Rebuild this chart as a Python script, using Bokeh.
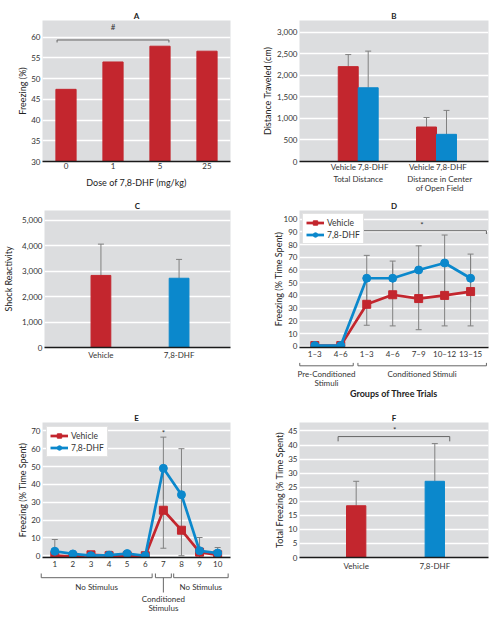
import numpy as np
from bokeh.plotting import figure
from bokeh.models import (FixedTicker, NumeralTickFormatter, Whisker, TeeHead,
                          ColumnDataSource, CustomJSTickFormatter, Legend, Range1d)
from bokeh.layouts import column, row
from bokeh.embed import file_html
from bokeh.resources import INLINE
from bokeh.core.properties import value

FONT = "Lato"
RED = "#C3262E"
BLUE = "#0B88CC"
BG = "#DCDDDF"
ERR = "#808080"
AXIS = "#1a1a1a"
TXT = "#333333"
BRK = "#666666"

# ---------------- data ----------------
# Panel A
a_doses = ["0", "1", "5", "25"]
a_freezing = [47.4, 54.0, 57.8, 56.6]
a_yticks = [30, 35, 40, 45, 50, 55, 60]

# Panel B
b_groups = ["Total Distance", "Distance in Center", "of Open Field"]
b_series = ["Vehicle", "7,8-DHF"]
b_vehicle = [2200, 800]
b_vehicle_upper = [2480, 1020]
b_dhf = [1710, 630]
b_dhf_upper = [2560, 1185]
b_yticks = [0, 500, 1000, 1500, 2000, 2500, 3000]

# Panel C
c_groups = ["Vehicle", "7,8-DHF"]
c_values = [2830, 2720]
c_upper = [4060, 3460]
c_yticks = [0, 1000, 2000, 3000, 4000, 5000]

# Panel D
d_ticks = ["1–3", "4–6", "1–3", "4–6", "7–9", "10–12", "13–15"]
d_phase_labels = ["Pre-Conditioned", "Stimuli", "Conditioned Stimuli"]
d_vehicle = [0.5, 0.5, 33, 40.5, 37.5, 40, 43]
d_vehicle_err = [0, 0, 16.5, 24.5, 24.5, 24, 27]
d_dhf = [0.5, 0.5, 53.5, 53.5, 60, 65.5, 53.5]
d_dhf_err = [0, 0, 18, 13.5, 19, 22, 19]
d_yticks = [0, 10, 20, 30, 40, 50, 60, 70, 80, 90, 100]

# Panel E
e_trials = [1, 2, 3, 4, 5, 6, 7, 8, 9, 10]
e_phase_labels = ["No Stimulus", "Conditioned", "Stimulus", "No Stimulus"]
e_vehicle = [0, -0.5, 0.5, 0, 0, 0, 25.5, 14.3, 2, 0.5]
e_vehicle_err = [0, 0, 0, 0, 0, 0, 21.3, 14.3, 0, 0]
e_dhf = [2.5, 1, 0, 0.3, 1.2, 0, 49, 34.2, 2.8, 1.5]
e_dhf_err = [6.6, 0, 0, 2.2, 0, 0, 17.5, 25.8, 7.4, 3.1]
e_yticks = [0, 10, 20, 30, 40, 50, 60, 70]

# Panel F
f_groups = ["Vehicle", "7,8-DHF"]
f_values = [18.4, 27.1]
f_upper = [27.1, 40.5]
f_yticks = [0, 5, 10, 15, 20, 25, 30, 35, 40, 45]

# ---------------- layout geometry (px) ----------------
W1, BL1, BR1 = 250, 42, 20      # left column
W2, BL2, BR2 = 240, 49, 2       # right column
R1 = dict(bt=20, fh=141, bb=13, sub=18)
R2 = dict(bt=18, fh=139, bb=13, sub=38)
R3 = dict(bt=22, fh=138, bb=13, sub=46)


# ---------------- helpers ----------------
def style_axis(ax):
    ax.major_tick_out = 0
    ax.major_tick_in = 0
    ax.minor_tick_out = 0
    ax.minor_tick_in = 0
    ax.major_tick_line_color = None
    ax.minor_tick_line_color = None
    ax.major_label_text_font = FONT
    ax.major_label_text_font_size = "8px"
    ax.major_label_text_color = TXT
    ax.major_label_standoff = 2
    ax.axis_label_text_font = FONT
    ax.axis_label_text_font_size = "9px"
    ax.axis_label_text_font_style = "normal"
    ax.axis_label_text_color = "#222222"


def main_fig(w, bl, br, r, xr, yr, ylabel, yticks, ystand, xstand, ttl):
    p = figure(width=w, height=r["bt"] + r["fh"] + r["bb"], x_range=xr, y_range=yr,
               output_backend="svg", toolbar_location=None, title=ttl,
               min_border_left=bl, min_border_right=br,
               min_border_top=r["bt"], min_border_bottom=r["bb"])
    p.title.align = "center"
    p.title.text_font = FONT
    p.title.text_font_size = "8px"
    p.title.text_font_style = "bold"
    p.title.text_color = "#222222"
    try:
        p.title.standoff = 0
    except Exception:
        pass
    p.background_fill_color = BG
    p.border_fill_color = "white"
    p.outline_line_color = None
    p.xgrid.visible = False
    p.ygrid.grid_line_color = "white"
    p.ygrid.grid_line_width = 1.3
    for ax in p.yaxis:
        style_axis(ax)
        ax.axis_line_color = None
        ax.axis_label = ylabel
        ax.axis_label_standoff = ystand
        ax.ticker = FixedTicker(ticks=yticks)
    for ax in p.xaxis:
        style_axis(ax)
        ax.axis_line_color = AXIS
        ax.axis_line_width = 1.6
        ax.major_label_standoff = xstand
    return p


def sub_fig(w, bl, br, h, xr):
    # full-width strip below a panel; its x range continues the panel's x scale
    ppu = (w - bl - br) / (xr.end - xr.start)
    sxr = Range1d(xr.start - bl / ppu, xr.end + br / ppu)
    p = figure(width=w, height=h, x_range=sxr, y_range=Range1d(h, 0),
               output_backend="svg", toolbar_location=None,
               x_axis_location=None, y_axis_location=None,
               min_border_left=0, min_border_right=0, min_border_top=0, min_border_bottom=0)
    p.background_fill_color = "white"
    p.border_fill_color = "white"
    p.outline_line_color = None
    p.grid.visible = False
    return p


def texts(p, xs, ys, labels, size="8px", style="normal", color=TXT):
    p.text(x=list(xs), y=list(ys), text=list(labels), text_font=value(FONT),
           text_font_size=size, text_font_style=style, text_color=color,
           text_align="center", text_baseline="middle")


def brackets(p, x0s, x1s, y, dy, color=BRK):
    n = len(x0s)
    p.segment(x0=list(x0s), y0=[y] * n, x1=list(x1s), y1=[y] * n, line_color=color, line_width=1)
    p.segment(x0=list(x0s) + list(x1s), y0=[y] * 2 * n, x1=list(x0s) + list(x1s),
              y1=[y + dy] * 2 * n, line_color=color, line_width=1)


def whisker(p, xs, lower, upper, up_head=True, low_head=False):
    src = ColumnDataSource(dict(x=list(xs), lower=list(lower), upper=list(upper)))
    p.add_layout(Whisker(source=src, base="x", lower="lower", upper="upper",
                         line_color=ERR, line_width=1,
                         upper_head=TeeHead(size=6, line_color=ERR, line_width=1) if up_head else None,
                         lower_head=TeeHead(size=6, line_color=ERR, line_width=1) if low_head else None))


def index_formatter(labels):
    return CustomJSTickFormatter(args=dict(labels=labels), code="return labels[index]")


def style_legend(lg, margin):
    lg.location = "top_left"
    lg.label_text_font = FONT
    lg.label_text_font_size = "8.5px"
    lg.label_text_color = TXT
    lg.background_fill_color = "white"
    lg.background_fill_alpha = 1
    lg.border_line_color = "#c8c8c8"
    lg.border_line_width = 1
    lg.padding = 3
    lg.spacing = 1
    lg.margin = margin
    lg.glyph_width = 18
    lg.glyph_height = 11
    lg.label_height = 11
    lg.label_standoff = 3


LW = 2.7

# ---------------- Panel A ----------------
a_xr = Range1d(-0.5, 3.5)
pA = main_fig(W1, BL1, BR1, R1, a_xr, (30, 64), "Freezing (%)", a_yticks, 0, 1, "A")
a_x = np.arange(len(a_doses))
pA.vbar(x=a_x, top=a_freezing, width=0.43, color=RED)
pA.xaxis.ticker = FixedTicker(ticks=[float(v) for v in a_x])
pA.xaxis.formatter = index_formatter(a_doses)
brackets(pA, [a_x[0] - 0.19], [a_x[2] + 0.19], 59.3, -0.6)
texts(pA, [a_x[1]], [62.5], ["#"])
sA = sub_fig(W1, BL1, BR1, R1["sub"], a_xr)
texts(sA, [(a_xr.start + a_xr.end) / 2], [8], ["Dose of 7,8-DHF (mg/kg)"], size="9px",
      color="#222222")

# ---------------- Panel B ----------------
b_xr = Range1d(0.25, 2.664)
pB = main_fig(W2, BL2, BR2, R1, b_xr, (0, 3270), "Distance Traveled (cm)", b_yticks, 1, 0, "B")
b_x = np.arange(1, len(b_vehicle) + 1)
bw = 0.255
whisker(pB, b_x - bw / 2, b_vehicle, b_vehicle_upper)
whisker(pB, b_x + bw / 2, b_dhf, b_dhf_upper)
pB.vbar(x=b_x - bw / 2, top=b_vehicle, width=bw, color=RED)
pB.vbar(x=b_x + bw / 2, top=b_dhf, width=bw, color=BLUE)
pB.yaxis.formatter = NumeralTickFormatter(format="0,0")
b_tick_pos = sorted([float(g + d) for g in b_x for d in (-0.19, 0.19)])
pB.xaxis.ticker = FixedTicker(ticks=b_tick_pos)
pB.xaxis.formatter = index_formatter(b_series * len(b_x))
sB = sub_fig(W2, BL2, BR2, R1["sub"], b_xr)
texts(sB, [b_x[0], b_x[1] + 0.04, b_x[1] + 0.04], [4.3, 4.3, 13.3], b_groups)

# ---------------- Panel C ----------------
c_xr = Range1d(0.278, 2.658)
pC = main_fig(W1, BL1, BR1, R2, c_xr, (0, 5380), "Shock Reactivity", c_yticks, 5, 2, "C")
c_x = np.arange(1, len(c_groups) + 1)
whisker(pC, c_x, c_values, c_upper)
pC.vbar(x=c_x, top=c_values, width=0.253, color=[RED, BLUE])
pC.yaxis.formatter = NumeralTickFormatter(format="0,0")
pC.xaxis.ticker = FixedTicker(ticks=[float(v) for v in c_x])
pC.xaxis.formatter = index_formatter(c_groups)
sC = sub_fig(W1, BL1, BR1, R2["sub"], c_xr)

# ---------------- Panel D ----------------
d_xr = Range1d(-0.59, 6.69)
pD = main_fig(W2, BL2, BR2, R2, d_xr, (-1, 106.8), "Freezing (% Time Spent)", d_yticks, -3, 1, "D")
d_x = np.arange(len(d_ticks))
d_idx = [i for i, e in enumerate(d_dhf_err) if e > 0]
whisker(pD, d_x[d_idx], [d_dhf[i] - d_dhf_err[i] for i in d_idx],
        [d_dhf[i] + d_dhf_err[i] for i in d_idx], True, False)
v_idx = [i for i, e in enumerate(d_vehicle_err) if e > 0]
whisker(pD, d_x[v_idx], [d_vehicle[i] - d_vehicle_err[i] for i in v_idx],
        [d_vehicle[i] + d_vehicle_err[i] for i in v_idx], False, True)
r1 = pD.line(d_x, d_vehicle, color=RED, line_width=LW)
r2 = pD.scatter(d_x, d_vehicle, marker="square", size=8, color=RED)
r3 = pD.line(d_x, d_dhf, color=BLUE, line_width=LW)
r4 = pD.scatter(d_x, d_dhf, marker="circle", size=8, color=BLUE)
lgD = Legend(items=[("Vehicle", [r1, r2]), ("7,8-DHF", [r3, r4])])
style_legend(lgD, 3)
pD.add_layout(lgD)
pD.xaxis.ticker = FixedTicker(ticks=[float(v) for v in d_x])
pD.xaxis.formatter = index_formatter(d_ticks)
brackets(pD, [1.66], [6.61], 90.9, -2.6)
texts(pD, [4.13], [95.5], ["*"])
sD = sub_fig(W2, BL2, BR2, R2["sub"], d_xr)
brackets(sD, [-0.58, 1.66], [1.48, 6.61], 3.3, -3)
texts(sD, [0.45, 0.45, 4.13], [11.3, 20.7, 11.3], d_phase_labels)
texts(sD, [(d_xr.start + d_xr.end) / 2], [31.3], ["Groups of Three Trials"], size="9px",
      style="bold", color="#222222")

# ---------------- Panel E ----------------
e_xr = Range1d(0.32, 10.71)
pE = main_fig(W1, BL1, BR1, R3, e_xr, (-1, 74.7), "Freezing (% Time Spent)", e_yticks, 0, 3, "E")
e_x = np.array(e_trials)
d_i = [i for i, e in enumerate(e_dhf_err) if e > 0]
whisker(pE, e_x[d_i], [e_dhf[i] - e_dhf_err[i] for i in d_i],
        [e_dhf[i] + e_dhf_err[i] for i in d_i], True, False)
v_i = [i for i, e in enumerate(e_vehicle_err) if e > 0]
whisker(pE, e_x[v_i], [e_vehicle[i] - e_vehicle_err[i] for i in v_i],
        [e_vehicle[i] + e_vehicle_err[i] for i in v_i], False, True)
s1 = pE.line(e_x, e_vehicle, color=RED, line_width=LW)
s2 = pE.scatter(e_x, e_vehicle, marker="square", size=8, color=RED)
s3 = pE.line(e_x, e_dhf, color=BLUE, line_width=LW)
s4 = pE.scatter(e_x, e_dhf, marker="circle", size=8, color=BLUE)
lgE = Legend(items=[("Vehicle", [s1, s2]), ("7,8-DHF", [s3, s4])])
style_legend(lgE, 4)
pE.add_layout(lgE)
pE.xaxis.ticker = FixedTicker(ticks=[float(v) for v in e_x])
texts(pE, [7], [68.8], ["*"])
sE = sub_fig(W1, BL1, BR1, R3["sub"], e_xr)
brackets(sE, [0.25, 6.56, 7.57], [6.38, 7.44, 10.58], 4.2, -5)
sE.segment(x0=[7], y0=[4.2], x1=[7], y1=[19], line_color=BRK, line_width=1)
texts(sE, [3.31, 7, 7, 9.07], [13, 25.3, 34.7, 13], e_phase_labels)

# ---------------- Panel F ----------------
f_xr = Range1d(0.279, 2.683)
pF = main_fig(W2, BL2, BR2, R3, f_xr, (0, 48), "Total Freezing (% Time Spent)", f_yticks, 0, 3, "F")
f_x = np.arange(1, len(f_groups) + 1)
whisker(pF, f_x, f_values, f_upper)
pF.vbar(x=f_x, top=f_values, width=0.246, color=[RED, BLUE])
pF.xaxis.ticker = FixedTicker(ticks=[float(v) for v in f_x])
pF.xaxis.formatter = index_formatter(f_groups)
brackets(pF, [0.77], [2.19], 43.0, -1.7)
texts(pF, [1.49], [45.4], ["*"])
sF = sub_fig(W2, BL2, BR2, R3["sub"], f_xr)

layout = column(row(pA, pB), row(sA, sB),
                row(pC, pD), row(sC, sD),
                row(pE, pF), row(sE, sF))
open("out.html", "w").write(file_html(layout, INLINE))
